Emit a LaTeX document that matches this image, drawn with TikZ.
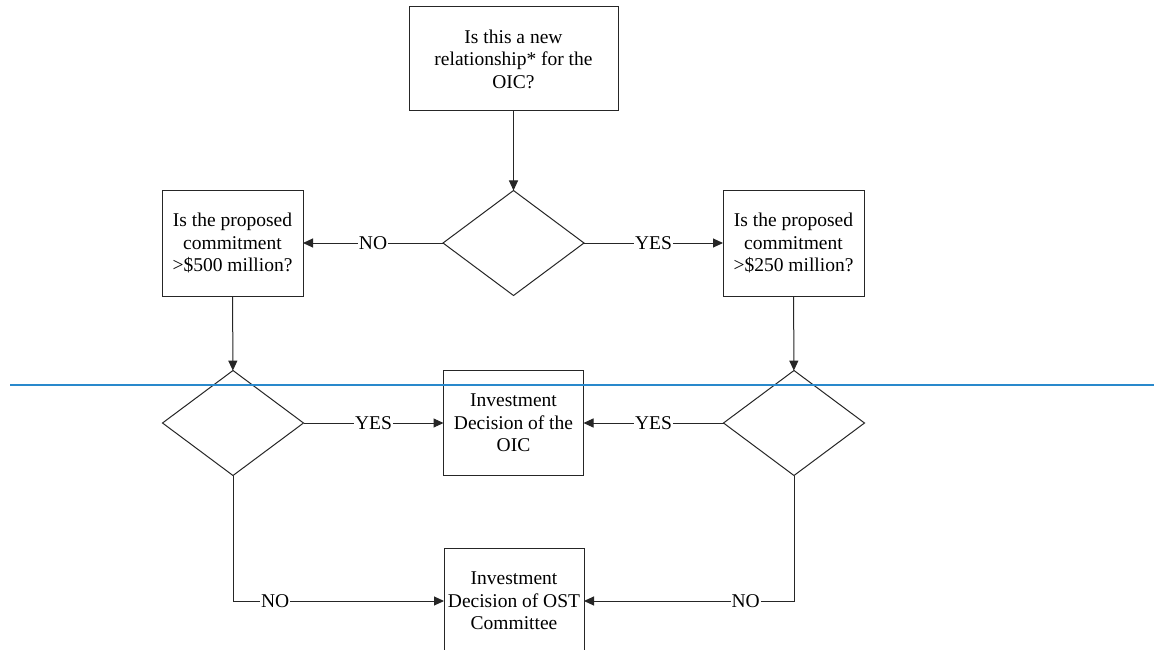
\documentclass[tikz,border=0pt]{standalone}
\usepackage{fontspec}
\setmainfont{Liberation Serif}
\usetikzlibrary{shapes.geometric,arrows.meta}
\definecolor{lineblue}{RGB}{41,137,204}
\begin{document}
\begin{tikzpicture}[x=1pt,y=-1pt,
  every node/.style={font=\fontsize{19.5}{22.5}\selectfont},
  box/.style={draw=black!85,line width=1pt,rectangle,align=center,inner sep=0pt,outer sep=0pt},
  dia/.style={draw=black!85,line width=1pt,diamond,minimum width=141pt,minimum height=105pt,inner sep=0pt,outer sep=0pt},
  conn/.style={draw=black!85,line width=1pt,-{Triangle[length=10pt,width=9pt]}},
  lbl/.style={fill=white,inner sep=1pt}]
\useasboundingbox (0,0) rectangle (1154,650);
\clip (0,0) rectangle (1154,650);
\fill[white] (0,0) rectangle (1154,650);
\node[box,minimum width=209pt,minimum height=104pt] (q1) at (513.5,59) {Is this a new\\relationship* for the\\OIC?};
\node[dia] (d1) at (513.5,243) {};
\node[box,minimum width=141pt,minimum height=106pt] (q2) at (232.5,243) {Is the proposed\\commitment\\>\$500 million?};
\node[box,minimum width=141pt,minimum height=106pt] (q3) at (793.5,243) {Is the proposed\\commitment\\>\$250 million?};
\node[dia] (d2) at (233,423) {};
\node[dia] (d3) at (794,423) {};
\node[box,minimum width=140pt,minimum height=105pt] (oic) at (513.5,423) {Investment\\Decision of the\\OIC};
\node[box,minimum width=140pt,minimum height=106pt] (ost) at (514,601) {Investment\\Decision of OST\\Committee};
\draw[lineblue,line width=1.6pt] (10,385) -- (1154,385);
\draw[conn] (q1) -- (d1);
\draw[conn] (d1) -- node[lbl]{NO} (q2);
\draw[conn] (d1) -- node[lbl]{YES} (q3);
\draw[conn] (q2) -- (d2);
\draw[conn] (q3) -- (d3);
\draw[conn] (d2) -- node[lbl]{YES} (oic);
\draw[conn] (d3) -- node[lbl]{YES} (oic);
\coordinate (c2) at (d2.south |- ost.west);
\coordinate (c3) at (d3.south |- ost.east);
\draw[conn] (d2.south) -- (c2) -- node[lbl,pos=0.2]{NO} (ost.west);
\draw[conn] (d3.south) -- (c3) -- node[lbl,pos=0.23]{NO} (ost.east);
\end{tikzpicture}
\end{document}
